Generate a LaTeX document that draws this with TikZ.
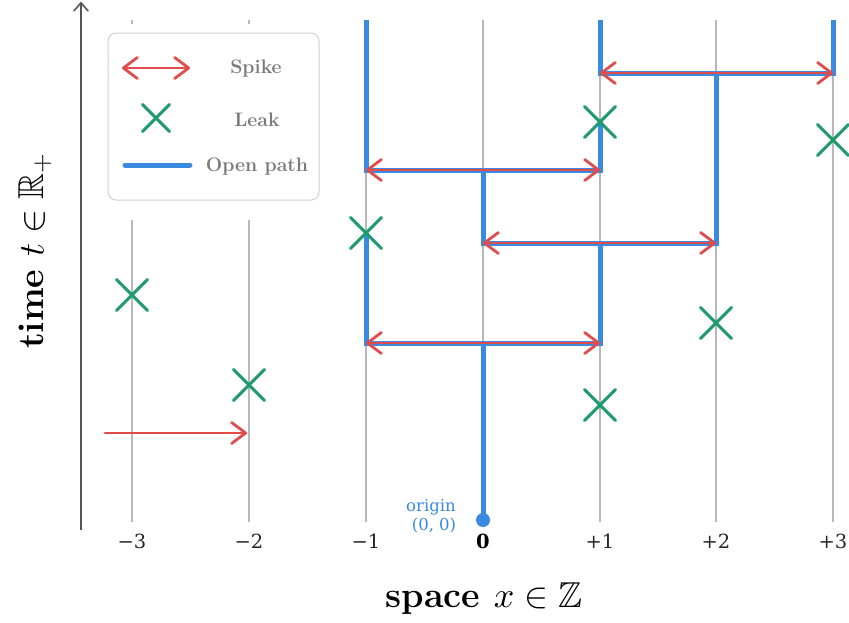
\documentclass[tikz,border=0pt]{standalone}
\usepackage{amssymb}
\DeclareFontFamily{U}{msb}{}
\DeclareFontShape{U}{msb}{m}{n}{<->msbm10}{}
\DeclareFontShape{OML}{cmm}{m}{it}{<->cmmi10}{}
\DeclareFontShape{OMS}{cmsy}{m}{n}{<->cmsy10}{}
\DeclareFontShape{OT1}{cmr}{m}{n}{<->cmr10}{}
\usepackage{fontspec}
\newfontfamily\dvs{DejaVu Serif}
\usetikzlibrary{arrows.meta,shapes.misc}
\definecolor{pathblue}{HTML}{3A8BDF}
\definecolor{spikered}{HTML}{E04B4B}
\definecolor{leakgreen}{HTML}{1E9A6C}
\definecolor{gridgray}{HTML}{B8B8B8}
\definecolor{axisgray}{HTML}{555555}
\definecolor{legtext}{HTML}{7A7A7A}
\definecolor{legframe}{HTML}{D0D0D0}
\begin{document}
\begin{tikzpicture}[x=1pt,y=-1pt,
  gridline/.style={gridgray, line width=1.6pt},
  openpath/.style={pathblue, line width=5pt},
  spikearrow/.style={spikered, line width=2.8pt, line cap=round, {Straight Barb[length=14pt,width=21pt,round]}-{Straight Barb[length=14pt,width=21pt,round]}},
  spikeone/.style={spikered, line width=2.8pt, line cap=round, -{Straight Barb[length=14pt,width=21pt,round]}},
  leak/.style={cross out, draw=leakgreen, line width=3pt, line cap=round, minimum size=28pt, inner sep=0pt},
  ticklab/.style={font=\dvs\fontsize{19.5}{22}\selectfont, text=black!85},
  legtxt/.style={font=\fontsize{19.5}{22}\selectfont\bfseries, text=legtext},
  axlab/.style={font=\fontsize{36}{42}\selectfont\bfseries, text=black},
]
\useasboundingbox (0,0) rectangle (849,622);

% columns
\foreach \n/\x in {m3/132,m2/249,m1/366,z/483,p1/600,p2/716,p3/833}{
  \coordinate (top\n) at (\x,20);
  \coordinate (bot\n) at (\x,522);
}
% grid lines
\foreach \n in {m3,m2,m1,p1,p2,p3}{
  \draw[gridline] (top\n) -- (bot\n);
}
\node[circle, fill=pathblue, minimum size=14pt, inner sep=0pt] (origin) at (483,520) {};
\draw[gridline] (topz) -- (origin.center);

% legend cover and box
\fill[white] (100,24) rectangle (335,220);
\draw[legframe, line width=1pt, rounded corners=8pt, fill=white] (108,33) rectangle (319,200);
\coordinate (lsA) at (122,68);
\coordinate (lsB) at (190,68);
\draw[spikearrow] (lsA) -- (lsB);
\node[legtxt] (lspike) at (256,69) {Spike};
\node[leak, minimum size=24pt] (lleak) at (156,118) {};
\node[legtxt] (lleaktxt) at (257,120) {Leak};
\coordinate (lpA) at (125,165);
\coordinate (lpB) at (190,165);
\draw[openpath, line cap=round] (lpA) -- (lpB);
\node[legtxt] (lpathtxt) at (257,167) {Open path};

% path points
\coordinate (zA) at (483,343);
\coordinate (m1A) at (366,343);
\coordinate (p1A) at (600,343);
\coordinate (m1L) at (366,233);
\coordinate (zB) at (483,243);
\coordinate (p1B) at (600,243);
\coordinate (p2B) at (716,243);
\coordinate (zC) at (483,170);
\coordinate (m1C) at (366,170);
\coordinate (p1C) at (600,170);
\coordinate (p1L) at (600,122);
\coordinate (p1D) at (600,73);
\coordinate (p2D) at (716,73);
\coordinate (p3D) at (833,73);

% open path
\draw[openpath] (origin.center) -- (zA);
\draw[openpath] (m1L) -- (m1A) -- (p1A) -- (p1B);
\draw[openpath] (zC) -- (zB) -- (p2B) -- (p2D);
\draw[openpath] (topm1) -- (m1C) -- (p1C) -- (p1L);
\draw[openpath] (topp1) -- (p1D) -- (p3D) -- (topp3);

% spikes
\draw[spikearrow] (m1A) -- (p1A);
\draw[spikearrow] (zB) -- (p2B);
\draw[spikearrow] (m1C) -- (p1C);
\draw[spikearrow] (p1D) -- (p3D);
\coordinate (sA) at (105,433);
\coordinate (sB) at (247,433);
\draw[spikeone] (sA) -- (sB);

% leaks
\node[leak] (k1) at (132,295) {};
\node[leak] (k2) at (249,385) {};
\node[leak] (k3) at (366,233) {};
\node[leak] (k4) at (600,122) {};
\node[leak] (k5) at (600,405) {};
\node[leak] (k6) at (716,323) {};
\node[leak] (k7) at (833,140) {};

% origin label
\node[font=\dvs\fontsize{16.5}{18}\selectfont, text=pathblue] (olab1) at (431,507) {origin};
\node[font=\dvs\fontsize{16.5}{18}\selectfont, text=pathblue] (olab2) at (434,526) {(0, 0)};

% tick labels
\node[ticklab] (t1) at (132,541) {\char"2212 3};
\node[ticklab] (t2) at (249,541) {\char"2212 2};
\node[ticklab] (t3) at (366,541) {\char"2212 1};
\node[ticklab, font=\dvs\bfseries\fontsize{19.5}{22}\selectfont, text=black] (t4) at (483,541) {0};
\node[ticklab] (t5) at (600,541) {+1};
\node[ticklab] (t6) at (716,541) {+2};
\node[ticklab] (t7) at (833,541) {+3};

% axis
\coordinate (axb) at (81,530);
\coordinate (axt) at (81,2);
\draw[axisgray, line width=1.6pt, -{Straight Barb[length=8pt,width=14pt,round]}] (axb) -- (axt);

% axis labels
\node[axlab] (xlab) at (484,599) {space $x \in \mathbb{Z}$};
\node[axlab, rotate=90] (ylab) at (35,251) {time $t \in \mathbb{R}_+$};
\end{tikzpicture}
\end{document}
